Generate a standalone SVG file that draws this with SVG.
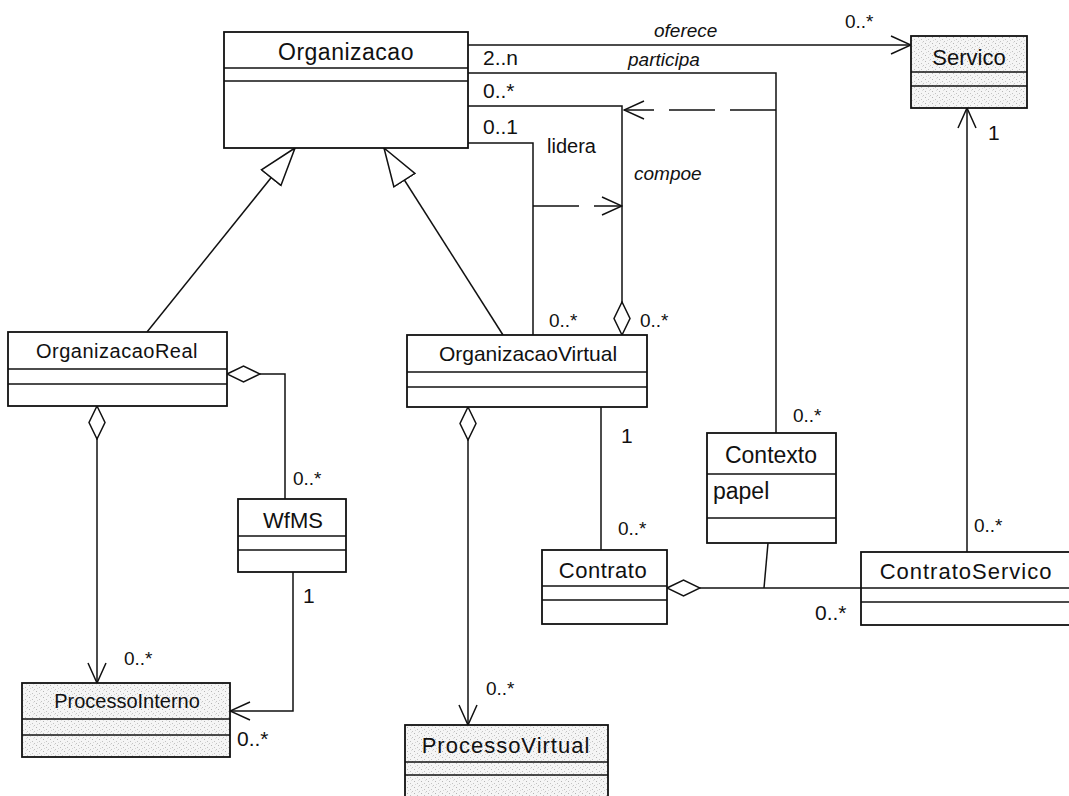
<svg xmlns="http://www.w3.org/2000/svg" width="1069" height="796" viewBox="0 0 1069 796">
  <defs>
    <style>
      .box { fill: #ffffff; stroke: #111; stroke-width: 1.8; }
      .grainy { fill: url(#grain); stroke: #111; stroke-width: 1.8; }
      .div { stroke: #111; stroke-width: 1.5; }
      .name { font-family: "Liberation Sans", Arial, sans-serif; font-size: 21px; fill: #111; text-anchor: middle; }
      .attr { font-family: "Liberation Sans", Arial, sans-serif; font-size: 23px; fill: #111; }
      .lbl { font-family: "Liberation Sans", Arial, sans-serif; font-size: 19px; fill: #111; }
      .big { font-size: 21px; }
      .it { font-style: italic; font-size: 19px; }
      .ln { fill: none; stroke: #111; stroke-width: 1.5; }
      .dash { fill: none; stroke: #111; stroke-width: 1.5; stroke-dasharray: 46 15; }
    </style>
    <!-- stippled fill used by the shaded classes -->
    <pattern id="grain" width="7" height="6" patternUnits="userSpaceOnUse">
      <rect width="7" height="6" fill="#f5f5f5"/>
      <rect x="1" y="1" width="1" height="1" fill="#b5b5b5"/>
      <rect x="4" y="3" width="1" height="1" fill="#c2c2c2"/>
      <rect x="6" y="5" width="1" height="1" fill="#c4c4c4"/>
      <rect x="2" y="4" width="1" height="1" fill="#d6d6d6"/>
      <rect x="5" y="0" width="1" height="1" fill="#dddddd"/>
    </pattern>
    <!-- open navigation arrow -->
    <marker id="open" viewBox="0 0 22 20" refX="21" refY="10" markerWidth="22" markerHeight="20" markerUnits="userSpaceOnUse" orient="auto">
      <path d="M1,1 L21,10 L1,19" fill="none" stroke="#111" stroke-width="1.5"/>
    </marker>
    <!-- hollow generalization triangle -->
    <marker id="gen" viewBox="0 0 40 28" refX="39" refY="14" markerWidth="40" markerHeight="28" markerUnits="userSpaceOnUse" orient="auto">
      <path d="M39,14 L1,1.5 L1,26.5 Z" fill="#fff" stroke="#111" stroke-width="1.5"/>
    </marker>
    <!-- hollow aggregation diamond -->
    <marker id="agg" viewBox="0 0 35 18" refX="1" refY="9" markerWidth="35" markerHeight="18" markerUnits="userSpaceOnUse" orient="auto">
      <path d="M1,9 L17.5,1 L34,9 L17.5,17 Z" fill="#fff" stroke="#111" stroke-width="1.5"/>
    </marker>
  </defs>

  <rect width="1069" height="796" fill="#ffffff"/>

  <!-- connectors -->
  <g id="connectors">
    <!-- oferece -->
    <path class="ln" d="M468,45 H911" marker-end="url(#open)"/>
    <!-- participa -->
    <path class="ln" d="M468,73 H776 V433"/>
    <!-- compoe (aggregation at OrganizacaoVirtual) -->
    <path class="ln" d="M622,335 V106 H468" marker-start="url(#agg)"/>
    <!-- lidera -->
    <path class="ln" d="M468,143 H533 V335"/>
    <!-- dependencies between associations -->
    <path class="dash" d="M776,110 H624" marker-end="url(#open)"/>
    <path class="dash" d="M533,206 H622" marker-end="url(#open)"/>
    <!-- generalizations -->
    <path class="ln" d="M147,332 L295,148" marker-end="url(#gen)"/>
    <path class="ln" d="M503,335 L384,148" marker-end="url(#gen)"/>
    <!-- OrganizacaoReal aggregations -->
    <path class="ln" d="M227,374 H285 V499" marker-start="url(#agg)"/>
    <path class="ln" d="M97,406 V683" marker-start="url(#agg)" marker-end="url(#open)"/>
    <!-- WfMS to ProcessoInterno -->
    <path class="ln" d="M293,572 V711 H230" marker-end="url(#open)"/>
    <!-- OrganizacaoVirtual aggregation -->
    <path class="ln" d="M468,407 V725" marker-start="url(#agg)" marker-end="url(#open)"/>
    <!-- OrganizacaoVirtual to Contrato -->
    <path class="ln" d="M601,407 V550"/>
    <!-- Contrato to ContratoServico -->
    <path class="ln" d="M667,588 H861" marker-start="url(#agg)"/>
    <!-- association class link -->
    <path class="ln" d="M768,543 L764,588"/>
    <!-- ContratoServico to Servico -->
    <path class="ln" d="M967,552 V108" marker-end="url(#open)"/>

    <!-- association labels -->
    <text class="lbl it" x="654" y="37">oferece</text>
    <text class="lbl" x="845" y="28">0..*</text>
    <text class="lbl big" x="483" y="65">2..n</text>
    <text class="lbl it" x="628" y="66">participa</text>
    <text class="lbl" x="793" y="422">0..*</text>
    <text class="lbl big" x="483" y="98">0..*</text>
    <text class="lbl it" x="634" y="180">compoe</text>
    <text class="lbl" x="640" y="327">0..*</text>
    <text class="lbl big" x="483" y="134">0..1</text>
    <text class="lbl" x="547" y="153" style="font-size:20px">lidera</text>
    <text class="lbl" x="549" y="327">0..*</text>
    <text class="lbl" x="293" y="485">0..*</text>
    <text class="lbl" x="124" y="665">0..*</text>
    <text class="lbl big" x="303" y="603">1</text>
    <text class="lbl big" x="237" y="746">0..*</text>
    <text class="lbl" x="486" y="695">0..*</text>
    <text class="lbl big" x="621" y="443">1</text>
    <text class="lbl" x="618" y="535">0..*</text>
    <text class="lbl big" x="815" y="620">0..*</text>
    <text class="lbl big" x="988" y="140">1</text>
    <text class="lbl" x="974" y="532">0..*</text>
  </g>

  <!-- classes -->
  <g id="Organizacao">
    <rect class="box" x="224" y="32" width="244" height="116"/>
    <line class="div" x1="224" y1="68" x2="468" y2="68"/>
    <line class="div" x1="224" y1="81" x2="468" y2="81"/>
    <text class="name" x="346" y="60" style="font-size:23px;letter-spacing:0.5px">Organizacao</text>
  </g>

  <g id="Servico">
    <rect class="grainy" x="911" y="36" width="116" height="72"/>
    <line class="div" x1="911" y1="72" x2="1027" y2="72"/>
    <line class="div" x1="911" y1="86" x2="1027" y2="86"/>
    <text class="name" x="969" y="65" style="font-size:22px">Servico</text>
  </g>

  <g id="OrganizacaoReal">
    <rect class="box" x="8" y="332" width="219" height="74"/>
    <line class="div" x1="8" y1="369" x2="227" y2="369"/>
    <line class="div" x1="8" y1="384" x2="227" y2="384"/>
    <text class="name" x="117" y="358" style="font-size:20px;letter-spacing:0.5px">OrganizacaoReal</text>
  </g>

  <g id="OrganizacaoVirtual">
    <rect class="box" x="407" y="335" width="240" height="72"/>
    <line class="div" x1="407" y1="372" x2="647" y2="372"/>
    <line class="div" x1="407" y1="387" x2="647" y2="387"/>
    <text class="name" x="528" y="361">OrganizacaoVirtual</text>
  </g>

  <g id="WfMS">
    <rect class="box" x="238" y="499" width="108" height="73"/>
    <line class="div" x1="238" y1="536" x2="346" y2="536"/>
    <line class="div" x1="238" y1="550" x2="346" y2="550"/>
    <text class="name" x="293" y="528" style="font-size:22px">WfMS</text>
  </g>

  <g id="Contexto">
    <rect class="box" x="707" y="433" width="129" height="110"/>
    <line class="div" x1="707" y1="474" x2="836" y2="474"/>
    <line class="div" x1="707" y1="518" x2="836" y2="518"/>
    <text class="name" x="771" y="463" style="font-size:23px">Contexto</text>
    <text class="attr" x="713" y="499">papel</text>
  </g>

  <g id="Contrato">
    <rect class="box" x="542" y="550" width="125" height="74"/>
    <line class="div" x1="542" y1="586" x2="667" y2="586"/>
    <line class="div" x1="542" y1="600" x2="667" y2="600"/>
    <text class="name" x="603" y="578" style="font-size:22px;letter-spacing:0.5px">Contrato</text>
  </g>

  <g id="ContratoServico">
    <rect class="box" x="861" y="552" width="215" height="73"/>
    <line class="div" x1="861" y1="588" x2="1076" y2="588"/>
    <line class="div" x1="861" y1="602" x2="1076" y2="602"/>
    <text class="name" x="966" y="579" style="font-size:22px;letter-spacing:1px">ContratoServico</text>
  </g>

  <g id="ProcessoInterno">
    <rect class="grainy" x="22" y="683" width="208" height="74"/>
    <line class="div" x1="22" y1="719" x2="230" y2="719"/>
    <line class="div" x1="22" y1="735" x2="230" y2="735"/>
    <text class="name" x="127" y="708" style="font-size:20px">ProcessoInterno</text>
  </g>

  <g id="ProcessoVirtual">
    <rect class="grainy" x="405" y="725" width="203" height="80"/>
    <line class="div" x1="405" y1="762" x2="608" y2="762"/>
    <line class="div" x1="405" y1="775" x2="608" y2="775"/>
    <text class="name" x="506" y="753" style="font-size:22px;letter-spacing:1px">ProcessoVirtual</text>
  </g>
</svg>
